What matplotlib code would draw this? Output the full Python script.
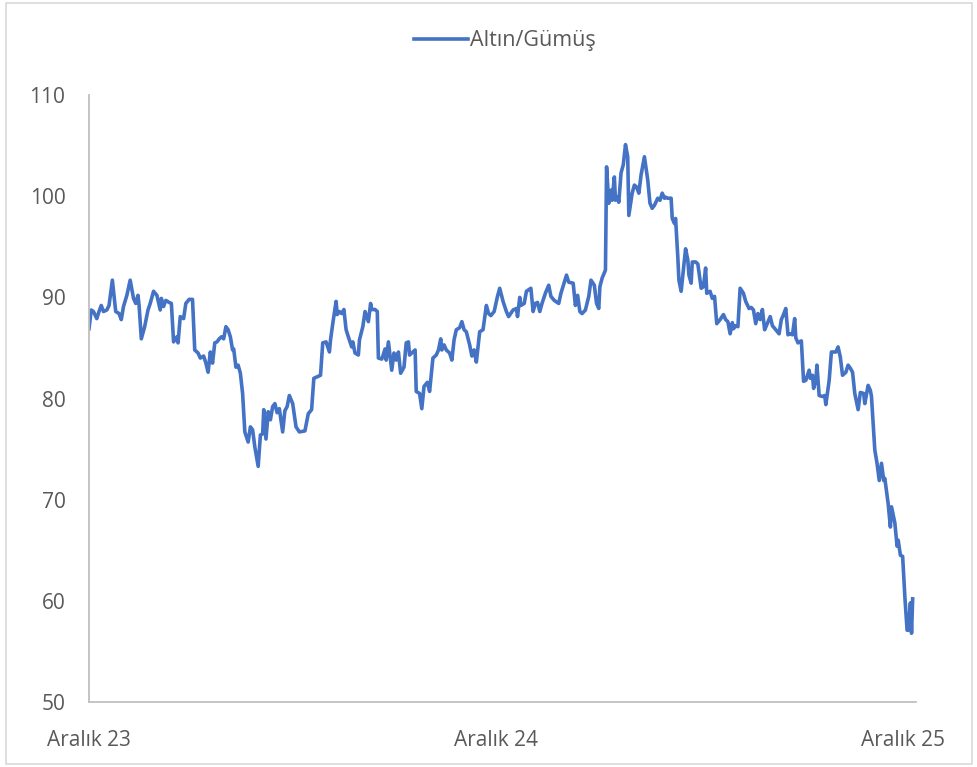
import pandas as pd
import matplotlib.pyplot as plt
import matplotlib.patches as patches

# gold / silver ratio, days counted from 1 Dec 2023
days = [0, 2, 4, 7, 9, 11, 13, 16, 18, 21, 24, 27, 29, 31, 34, 37, 40, 42, 44, 45,
        47, 50, 53, 55, 58, 61, 64, 65, 67, 69, 72, 74, 76, 79, 80, 82, 85, 87, 90, 93,
        95, 98, 100, 103, 105, 107, 109, 111, 113, 115, 117, 119, 121, 123, 125, 127, 129, 130, 132, 134,
        136, 138, 140, 143, 145, 147, 149, 152, 154, 156, 157, 159, 161, 163, 165, 167, 169, 171, 174, 176,
        178, 180, 183, 186, 189, 194, 197, 200, 202, 206, 208, 210, 213, 216, 217, 219, 222, 223, 225, 227,
        229, 231, 233, 236, 237, 239, 242, 243, 246, 248, 251, 253, 254, 257, 259, 260, 263, 264, 266, 267,
        269, 272, 274, 276, 278, 280, 283, 285, 287, 288, 291, 293, 294, 297, 299, 301, 304, 306, 309, 312,
        314, 316, 317, 319, 321, 324, 326, 328, 330, 333, 335, 337, 339, 342, 344, 346, 348, 351, 354, 357,
        359, 361, 364, 367, 369, 372, 375, 377, 381, 384, 385, 387, 388, 391, 393, 397, 399, 401, 403, 405,
        407, 410, 413, 415, 418, 422, 424, 427, 429, 431, 435, 437, 439, 441, 443, 446, 449, 451, 454, 456,
        458, 459, 461, 464, 465, 467, 469, 470, 472, 473, 475, 476, 478, 480, 482, 484, 485, 488, 490, 492,
        494, 496, 499, 502, 504, 506, 508, 511, 513, 515, 517, 518, 520, 523, 524, 526, 527, 529, 530, 532,
        534, 536, 538, 539, 541, 542, 545, 547, 550, 552, 554, 555, 558, 560, 562, 564, 567, 570, 572, 574,
        576, 578, 579, 581, 583, 585, 588, 590, 593, 595, 597, 599, 601, 603, 605, 607, 609, 612, 614, 617,
        620, 622, 624, 626, 628, 630, 632, 634, 635, 637, 640, 642, 644, 647, 648, 650, 651, 653, 654, 656,
        659, 661, 662, 665, 667, 671, 673, 675, 677, 680, 682, 684, 686, 688, 691, 693, 696, 697, 700, 702,
        703, 706, 708, 710, 712, 714, 715, 718, 720, 721, 724, 726, 727, 729, 731, 732, 733, 735, 736, 738,
        739, 740]

ratio = [86.9, 88.75, 88.6, 87.9, 88.6, 89.2, 88.6, 88.75, 89.2, 91.7, 88.6, 88.4, 87.8, 89.1, 90.2, 91.7, 89.9, 89.4, 90.2, 89.2,
         85.9, 87.1, 88.75, 89.4, 90.6, 90.2, 88.75, 89.9, 89.1, 89.7, 89.5, 89.4, 85.6, 86.1, 85.5, 88.1, 87.9, 89.4, 89.8, 89.8,
         84.8, 84.5, 84.0, 84.2, 83.5, 82.6, 84.6, 83.5, 85.5, 85.6, 85.9, 86.1, 85.9, 87.1, 86.8, 86.1, 84.8, 84.9, 83.1, 83.3,
         82.5, 80.5, 76.7, 75.7, 77.2, 76.9, 75.2, 73.3, 76.4, 76.5, 78.9, 76.0, 78.7, 77.9, 79.2, 79.5, 78.6, 79.0, 76.7, 78.8,
         79.2, 80.3, 79.5, 77.2, 76.7, 76.8, 78.5, 78.9, 82.0, 82.2, 82.3, 85.5, 85.6, 84.6, 85.8, 87.4, 89.6, 88.3, 88.6, 88.4,
         88.8, 86.8, 86.1, 85.1, 85.6, 84.5, 84.3, 85.8, 87.1, 88.6, 87.6, 89.4, 88.8, 88.8, 88.6, 84.0, 83.9, 84.2, 84.9, 83.8,
         85.6, 82.8, 84.5, 83.8, 84.6, 82.5, 83.1, 85.5, 85.6, 84.3, 84.6, 84.8, 80.7, 80.5, 79.0, 81.2, 81.6, 80.7, 84.0, 84.3,
         84.8, 85.9, 84.8, 85.3, 84.8, 84.5, 83.8, 85.8, 86.8, 87.0, 87.6, 86.8, 86.6, 85.3, 84.2, 84.8, 83.6, 86.6, 86.8, 89.2,
         88.4, 88.2, 88.6, 90.1, 90.9, 89.6, 88.6, 88.1, 88.75, 88.9, 88.1, 90.0, 89.2, 89.4, 90.6, 90.9, 88.6, 89.4, 89.5, 88.6,
         89.4, 90.4, 91.2, 90.1, 89.7, 89.4, 90.4, 91.5, 92.2, 91.5, 91.4, 89.2, 90.2, 88.6, 88.4, 88.75, 90.1, 91.7, 91.2, 89.4,
         88.9, 91.05, 91.9, 92.7, 102.9, 99.3, 100.6, 99.6, 101.9, 99.6, 99.9, 99.4, 102.3, 103.1, 105.1, 103.9, 98.1, 100.3, 101.1, 100.9,
         100.3, 102.1, 103.9, 101.6, 99.3, 98.8, 99.1, 99.8, 99.6, 100.3, 99.8, 99.9, 99.8, 99.8, 97.8, 97.3, 97.8, 94.0, 91.7, 90.6,
         92.7, 94.8, 93.7, 92.2, 91.4, 93.5, 93.5, 93.3, 90.9, 91.05, 92.9, 90.4, 90.6, 89.9, 90.1, 87.4, 87.8, 88.3, 87.8, 87.6,
         86.4, 87.5, 86.9, 87.2, 87.1, 90.9, 90.4, 89.6, 88.9, 89.0, 88.75, 87.4, 88.4, 87.8, 88.8, 86.8, 87.3, 88.1, 87.2, 86.8,
         86.4, 87.8, 88.3, 88.9, 86.3, 86.4, 86.3, 87.9, 86.0, 85.5, 85.7, 81.7, 81.8, 82.8, 82.0, 82.3, 81.0, 81.8, 83.3, 80.3,
         80.2, 80.3, 79.4, 81.8, 84.6, 84.6, 85.1, 84.1, 82.3, 82.6, 83.3, 83.0, 82.6, 80.5, 78.9, 80.6, 80.5, 79.5, 81.3, 80.8,
         80.2, 74.9, 73.6, 71.9, 73.6, 71.9, 72.1, 69.6, 67.3, 69.3, 67.7, 65.4, 66.0, 64.5, 64.4, 62.4, 60.4, 57.1, 57.1, 59.8,
         56.8, 60.2]

tick_dates = ["2023-12-01", "2024-12-01", "2025-12-01"]
tick_labels = ["Aralık 23", "Aralık 24", "Aralık 25"]
y_ticks = [50, 60, 70, 80, 90, 100, 110]

start = pd.Timestamp("2023-12-01")
dates = start + pd.to_timedelta(days, unit="D")

plt.rcParams['font.family'] = ['Open Sans', 'DejaVu Sans']
grey = "#595959"

fig = plt.figure(figsize=(9.78, 7.67), dpi=100)
ax = fig.add_axes([0.091, 0.0847, 0.8456, 0.7914])

ax.plot(dates, ratio, color="#4472C4", linewidth=2.6, label="Altın/Gümüş")

ax.set_ylim(50, 110)
ax.set_yticks(y_ticks)
ax.set_xlim(start, start + pd.Timedelta(days=743))
ax.set_xticks(pd.to_datetime(tick_dates))
ax.set_xticklabels(tick_labels)

for s in ["top", "right"]:
    ax.spines[s].set_visible(False)
for s in ["left", "bottom"]:
    ax.spines[s].set_color("#BFBFBF")
    ax.spines[s].set_linewidth(1.3)

ax.tick_params(axis="both", length=0, labelsize=15, colors=grey)
ax.tick_params(axis="y", pad=17)
ax.tick_params(axis="x", pad=20)

fig.legend(loc="center", bbox_to_anchor=(0.516, 0.947), frameon=False,
           fontsize=15.5, labelcolor=grey, handlelength=2.5, handletextpad=0.1)

# light frame around the whole chart
fig.patches.append(patches.Rectangle((0.006, 0.004), 0.988, 0.992, transform=fig.transFigure,
                                     fill=False, edgecolor="#D9D9D9", linewidth=1.2))

fig.savefig("out.png", dpi=100)
